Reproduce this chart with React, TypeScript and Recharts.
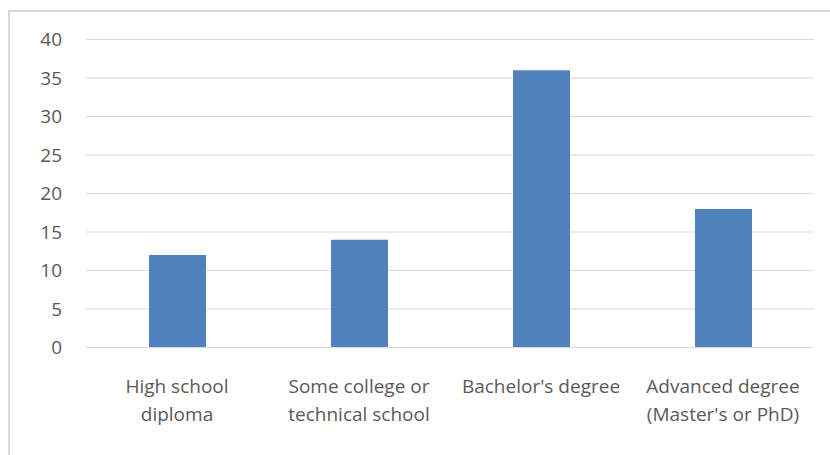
import { Bar, BarChart, CartesianGrid, XAxis, YAxis } from 'recharts'

const categories = [
  ['High school', 'diploma'],
  ['Some college or', 'technical school'],
  ["Bachelor's degree"],
  ['Advanced degree', "(Master's or PhD)"],
]
const counts = [12, 14, 36, 18]
const yTicks = [0, 5, 10, 15, 20, 25, 30, 35, 40]

const data = categories.map((lines, i) => ({ name: lines.join('\n'), value: counts[i] }))

const FONT = '"Open Sans", sans-serif'
const TEXT = '#595959'

// two-line category labels, centred under each bar
function CategoryTick(props: any) {
  const { x, y, payload } = props
  const lines = String(payload.value).split('\n')
  return (
    <text x={x} y={y} textAnchor="middle" fill={TEXT} fontFamily={FONT} fontSize={19}>
      {lines.map((line, i) => (
        <tspan key={i} x={x} dy={i === 0 ? 37 : 28}>
          {line}
        </tspan>
      ))}
    </text>
  )
}

export default function App() {
  return (
    <div style={{ position: 'absolute', left: 0, top: 0, width: 830, height: 455, overflow: 'hidden', background: '#fff' }}>
      <div
        style={{
          position: 'absolute',
          left: 8,
          top: 10,
          width: 900,
          height: 600,
          borderLeft: '2px solid #d9d9d9',
          borderTop: '2px solid #d9d9d9',
        }}
      />
      <div style={{ position: 'absolute', left: 0, top: 0 }}>
        <BarChart width={830} height={455} data={data} margin={{ top: 39.5, right: 16, bottom: 0, left: 0 }}>
          <CartesianGrid vertical={false} stroke="#d9d9d9" />
          <XAxis
            dataKey="name"
            height={107.5}
            axisLine={{ stroke: '#d9d9d9' }}
            tickLine={false}
            tick={<CategoryTick />}
            interval={0}
          />
          <YAxis
            width={86}
            domain={[0, 40]}
            ticks={yTicks}
            axisLine={false}
            tickLine={false}
            tickMargin={18}
            tick={{ fill: TEXT, fontFamily: FONT, fontSize: 19 }}
          />
          <Bar dataKey="value" fill="#4f81bd" barSize={57} isAnimationActive={false} />
        </BarChart>
      </div>
    </div>
  )
}
